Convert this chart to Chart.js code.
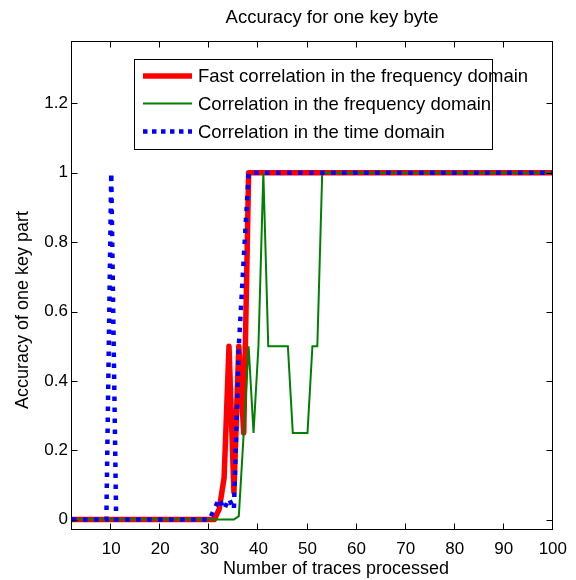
<!DOCTYPE html>
<html lang="en-US">
<head>
  <meta charset="utf-8">
  <title>Accuracy for one key byte</title>
  <script src="https://cdn.jsdelivr.net/npm/chart.js@4.4.1/dist/chart.umd.min.js"></script>
  <style>
    html, body { margin: 0; padding: 0; background: #fff; }
    .wrapper { width: 576px; height: 580px; }
  </style>
</head>
<body>
  <div class="wrapper">
    <canvas id="chart-0" width="576" height="580"></canvas>
  </div>

  <script>

    // Fast correlation in the frequency domain
    const fastX = [2, 31, 32, 33, 34, 35, 36, 37, 38, 100];
    const fastY = [0, 0, 0.03, 0.12, 0.5, 0.08, 0.5, 0.25, 1, 1];

    // Correlation in the frequency domain
    const freqX = [2, 35, 36, 37, 38, 39, 40, 41, 42, 46, 47, 50, 51, 52, 53, 100];
    const freqY = [0, 0, 0.01, 0.25, 0.5, 0.25, 0.5, 1, 0.5, 0.5, 0.25, 0.25, 0.5, 0.5, 1, 1];

    // Correlation in the time domain
    const timeX = [2, 9, 10, 11, 30, 31, 32, 33, 34, 35, 36, 37, 38, 100];
    const timeY = [0, 0, 1, 0, 0, 0.03, 0.06, 0.03, 0.06, 0.03, 0.5, 0.75, 1, 1];

    const xTicks = [10, 20, 30, 40, 50, 60, 70, 80, 90, 100];
    const yTicks = [0, 0.2, 0.4, 0.6, 0.8, 1, 1.2];

    const labels = [
      'Fast correlation in the frequency domain',
      'Correlation in the frequency domain',
      'Correlation in the time domain'
    ];

    const FONT = '"Liberation Sans", Arial, Helvetica, sans-serif';

    function points(xs, ys) {
      return xs.map((x, i) => ({x: x, y: ys[i]}));
    }

    let datasets = [
      {
        label: labels[0],
        data: points(fastX, fastY),
        borderColor: '#ff0000',
        borderWidth: 5.5,
        borderJoinStyle: 'round',
        borderCapStyle: 'round',
        order: 3
      },
      {
        label: labels[1],
        data: points(freqX, freqY),
        borderColor: '#008000',
        borderWidth: 2,
        order: 2
      },
      {
        label: labels[2],
        data: points(timeX, timeY),
        borderColor: '#0000ff',
        borderWidth: 4.5,
        borderDash: [4.5, 6.5],
        borderCapStyle: 'butt',
        order: 1
      }
    ];

    // box, inward ticks on all sides, titles and the legend
    let frame = {
      id: 'frame',
      afterDatasetsDraw(chart) {
        const ctx = chart.ctx;
        const a = chart.chartArea;
        const x = chart.scales.x;
        const y = chart.scales.y;
        const L = Math.round(a.left) - 0.5, R = Math.round(a.right) - 0.5;
        const T = Math.round(a.top) + 0.5, B = Math.round(a.bottom) - 0.5;
        const tick = 6;

        ctx.save();
        ctx.strokeStyle = '#000';
        ctx.lineWidth = 1;
        ctx.strokeRect(L, T, R - L, B - T);

        ctx.beginPath();
        xTicks.forEach(v => {
          const px = Math.round(x.getPixelForValue(v)) - 0.5;
          ctx.moveTo(px, B); ctx.lineTo(px, B - tick);
          ctx.moveTo(px, T); ctx.lineTo(px, T + tick);
        });
        yTicks.forEach(v => {
          const py = Math.round(y.getPixelForValue(v)) + 0.5;
          ctx.moveTo(L, py); ctx.lineTo(L + tick, py);
          ctx.moveTo(R, py); ctx.lineTo(R - tick, py);
        });
        ctx.stroke();

        // legend
        const lx = 134.5, ly = 59.5, lw = 358, lh = 90;
        ctx.fillStyle = '#fff';
        ctx.fillRect(lx, ly, lw, lh);
        ctx.strokeRect(lx, ly, lw, lh);
        const rows = [76, 103.5, 131.5];
        datasets.forEach((ds, i) => {
          ctx.save();
          ctx.strokeStyle = ds.borderColor;
          ctx.lineWidth = ds.borderWidth;
          ctx.setLineDash(i === 2 ? [4.5, 4.5] : []);
          ctx.beginPath();
          ctx.moveTo(143, rows[i]);
          ctx.lineTo(192, rows[i]);
          ctx.stroke();
          ctx.restore();
        });
        ctx.fillStyle = '#000';
        ctx.font = '18.5px ' + FONT;
        ctx.textAlign = 'left';
        ctx.textBaseline = 'middle';
        labels.forEach((t, i) => ctx.fillText(t, 198, rows[i] + 1));

        // titles
        ctx.textAlign = 'center';
        ctx.fillText('Accuracy for one key byte', 332, 18);
        ctx.font = '18px ' + FONT;
        ctx.fillText('Number of traces processed', 336, 569);
        ctx.translate(23, 310);
        ctx.rotate(-Math.PI / 2);
        ctx.fillText('Accuracy of one key part', 0, 0);
        ctx.restore();
      }
    };

    let chart = new Chart('chart-0', {
      type: 'line',
      data: {datasets: datasets},
      plugins: [frame],
      options: {
        responsive: false,
        animation: false,
        events: [],
        layout: {
          padding: {top: 41, right: 19, left: 0, bottom: 0}
        },
        elements: {
          point: {radius: 0},
          line: {tension: 0}
        },
        plugins: {
          legend: {display: false},
          title: {display: false},
          tooltip: {enabled: false}
        },
        scales: {
          x: {
            type: 'linear',
            min: 2,
            max: 100,
            grid: {display: false, drawTicks: false},
            border: {display: false},
            afterBuildTicks: s => { s.ticks = xTicks.map(v => ({value: v})); },
            afterFit: s => { s.height = 50; },
            ticks: {
              padding: 9,
              maxRotation: 0,
              color: '#000',
              font: {family: FONT, size: 17},
              callback: v => String(v)
            }
          },
          y: {
            min: -0.03,
            max: 1.38,
            grid: {display: false, drawTicks: false},
            border: {display: false},
            afterBuildTicks: s => { s.ticks = yTicks.map(v => ({value: v})); },
            afterFit: s => { s.width = 72; },
            ticks: {
              padding: 4,
              color: '#000',
              font: {family: FONT, size: 17},
              callback: v => String(+v.toFixed(1))
            }
          }
        }
      }
    });

  </script>
</body>
</html>
